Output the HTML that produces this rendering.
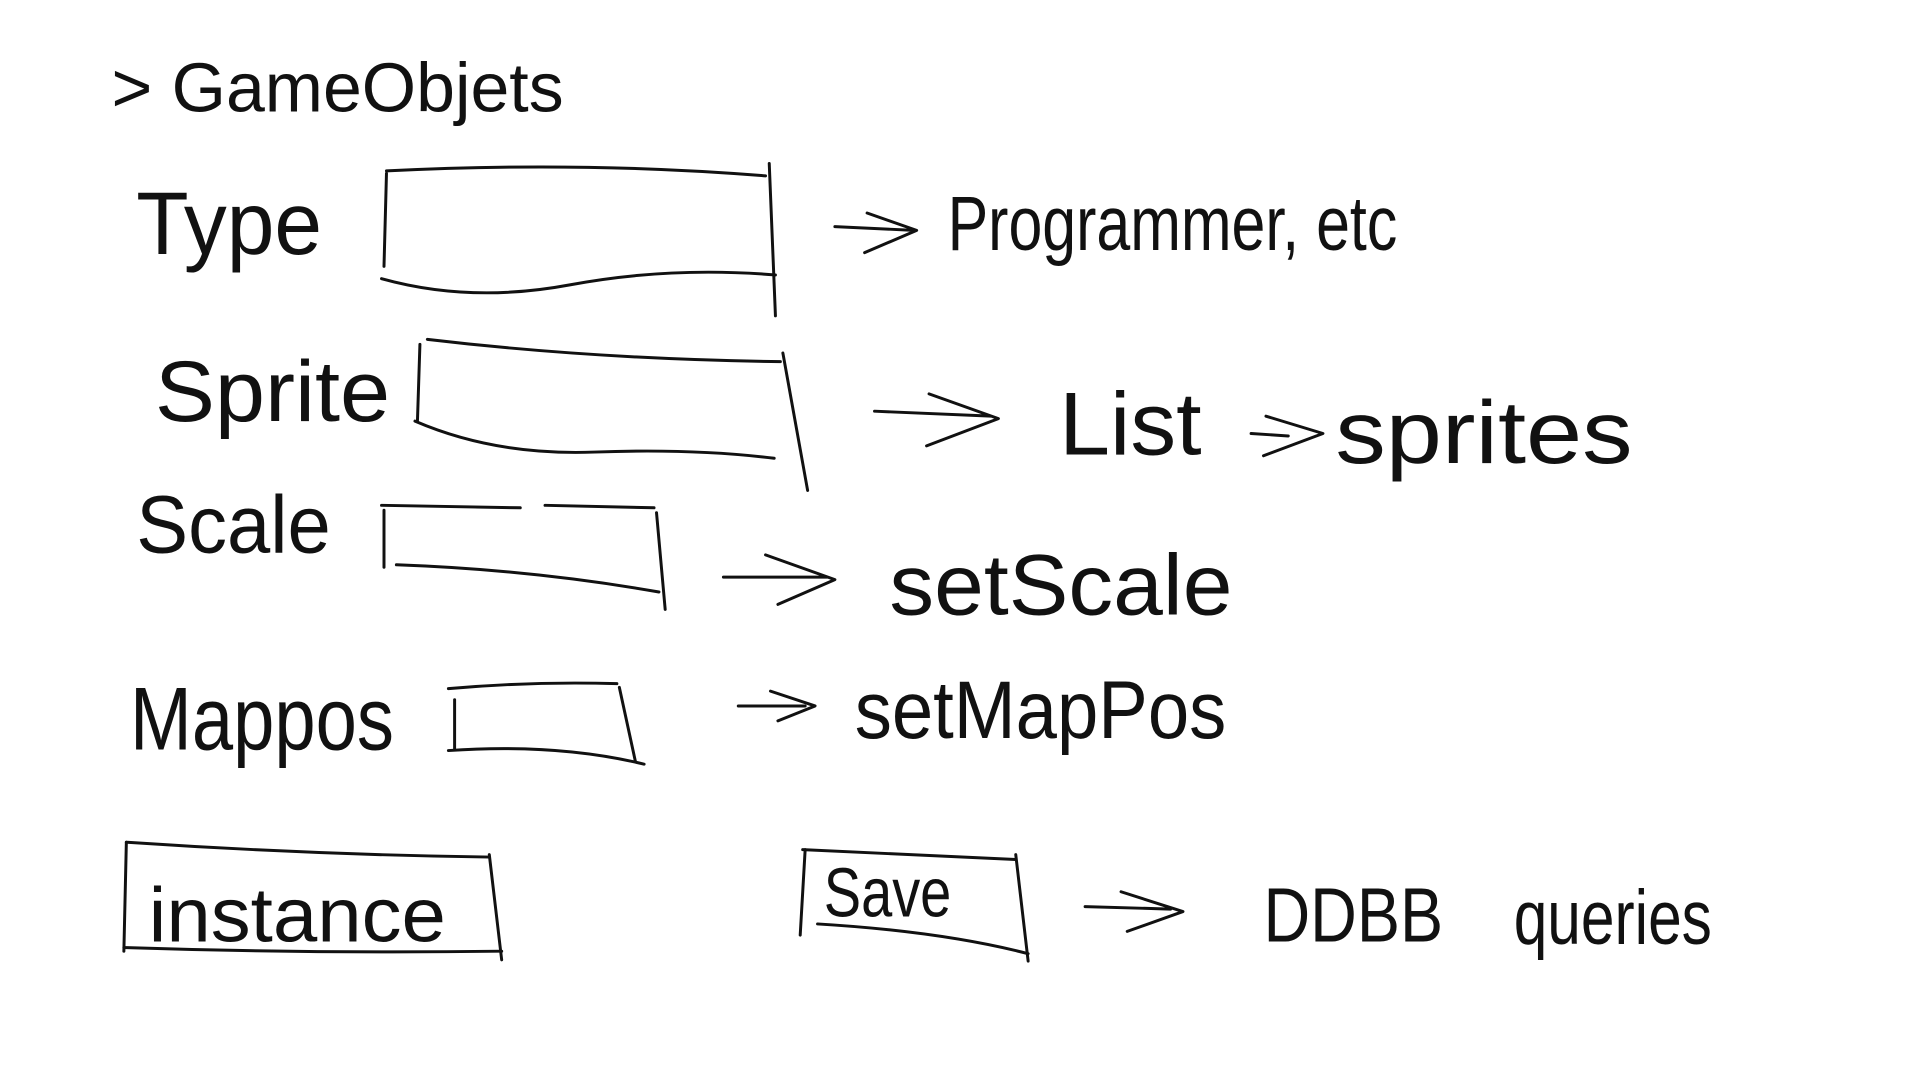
<!DOCTYPE html>
<html><head><meta charset="utf-8"><style>
html,body{margin:0;padding:0;background:#fff;width:1920px;height:1080px;overflow:hidden}
svg{display:block}
text{font-family:"Liberation Sans",sans-serif;fill:#111;font-weight:normal}
path{fill:none;stroke:#111;stroke-width:2.4;stroke-linecap:round;stroke-linejoin:round}
</style></head><body>
<svg width="1920" height="1080" viewBox="0 0 1550 872" preserveAspectRatio="none">
<!-- title -->
<text x="90" y="90" font-size="56" textLength="365" lengthAdjust="spacingAndGlyphs">&gt; GameObjets</text>

<!-- Type -->
<text x="110" y="205" font-size="72" textLength="150" lengthAdjust="spacingAndGlyphs">Type</text>
<path d="M312 138 Q470 130 618 142"/>
<path d="M312 140 L310 215"/>
<path d="M308 225 Q380 245 460 230 Q540 215 626 222"/>
<path d="M621 132 L626 255"/>
<path d="M674 183 L738 186 M700 172 L740 186 L698 204"/>
<text x="765" y="202" font-size="62" textLength="363" lengthAdjust="spacingAndGlyphs">Programmer, etc</text>

<!-- Sprite -->
<text x="125" y="340" font-size="70" textLength="190" lengthAdjust="spacingAndGlyphs">Sprite</text>
<path d="M345 274 Q480 290 630 292"/>
<path d="M339 278 L337 340"/>
<path d="M335 340 Q400 368 480 365 Q560 362 625 370"/>
<path d="M632 285 L652 396"/>
<path d="M706 332 L800 336 M750 318 L806 338 L748 360"/>
<text x="855" y="367" font-size="72" textLength="115" lengthAdjust="spacingAndGlyphs">List</text>
<path d="M1010 350 L1040 352 M1022 336 L1068 350 L1020 368"/>
<text x="1078" y="374" font-size="72" textLength="240" lengthAdjust="spacingAndGlyphs">sprites</text>

<!-- Scale -->
<text x="110" y="446" font-size="66" textLength="157" lengthAdjust="spacingAndGlyphs">Scale</text>
<path d="M308 408 L420 410 M440 408 L528 410"/>
<path d="M310 412 L310 458"/>
<path d="M320 456 Q430 460 532 478"/>
<path d="M530 414 L537 492"/>
<path d="M584 466 L668 466 M618 448 L674 468 L628 488"/>
<text x="718" y="496" font-size="70" textLength="277" lengthAdjust="spacingAndGlyphs">setScale</text>

<!-- Mappos -->
<text x="105" y="605" font-size="72" textLength="213" lengthAdjust="spacingAndGlyphs">Mappos</text>
<path d="M362 556 Q430 550 498 552"/>
<path d="M367 565 L367 605"/>
<path d="M362 606 Q450 600 520 617"/>
<path d="M500 555 L513 615"/>
<path d="M596 570 L650 570 M622 558 L658 570 L628 582"/>
<text x="690" y="596" font-size="66" textLength="300" lengthAdjust="spacingAndGlyphs">setMapPos</text>

<!-- instance -->
<path d="M102 680 Q250 690 395 692"/>
<path d="M102 680 L100 768"/>
<path d="M100 765 Q250 770 405 768"/>
<path d="M395 690 L405 775"/>
<text x="120" y="760" font-size="62" textLength="240" lengthAdjust="spacingAndGlyphs">instance</text>

<!-- Save -->
<path d="M648 686 Q740 690 820 694"/>
<path d="M650 686 L646 755"/>
<path d="M660 746 Q760 752 830 770"/>
<path d="M820 690 L830 776"/>
<text x="665" y="740" font-size="56" textLength="103" lengthAdjust="spacingAndGlyphs">Save</text>
<path d="M876 732 L945 734 M905 720 L955 736 L910 752"/>
<text x="1020" y="760" font-size="62" textLength="145" lengthAdjust="spacingAndGlyphs">DDBB</text>
<text x="1222" y="762" font-size="62" textLength="160" lengthAdjust="spacingAndGlyphs">queries</text>
</svg>
</body></html>
